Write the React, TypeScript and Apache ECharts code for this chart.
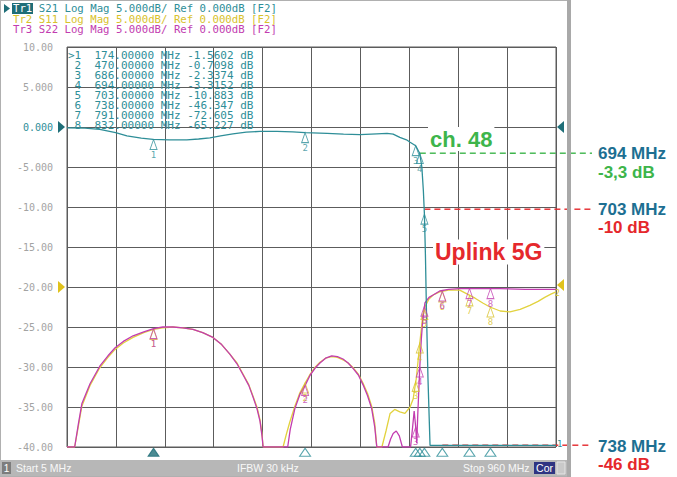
import React, { useEffect, useRef } from "react";
import * as echarts from "echarts";

const TEAL = "#2e8e98";
const TEAL_DARK = "#1f6e78";
const YELLOW = "#e2d23e";
const YELLOW_TXT = "#d8c22c";
const MAGENTA = "#c23cb0";
const GRID = "#5c5c5c";
const ANN_BLUE = "#1d6f92";
const ANN_GREEN = "#3db54b";
const ANN_RED = "#e5282c";
const MONO = "DejaVu Sans Mono, monospace";
const SANS = "Liberation Sans, Arial, sans-serif";

const startMHz = 5;
const stopMHz = 960;
const xDivisions = 10;
const yMin = -40;
const yMax = 10;
const yStep = 5;

// Tr1 S21 (display values; below -40 dB clamps to the bottom edge)
const s21Freq = [5, 40, 69, 100, 122, 150, 173, 205, 239, 262, 284, 305, 329, 355, 382, 415, 446, 470, 513, 545, 577, 610, 630, 642, 655, 668, 675, 686, 694, 698, 701, 703, 705, 707, 710, 714, 800, 960];
const s21Db = [-0.1, -0.15, -0.3, -0.7, -1.1, -1.4, -1.55, -1.6, -1.6, -1.5, -1.35, -1.1, -0.85, -0.65, -0.55, -0.55, -0.6, -0.71, -0.8, -0.9, -0.95, -0.85, -0.8, -0.9, -1.3, -1.6, -1.9, -2.34, -3.32, -5, -8, -10.88, -16, -23, -31.5, -39.8, -39.8, -39.8];

// Tr2 S11
const s11Freq = [5, 20, 27, 34, 50, 69, 85, 99, 115, 134, 155, 174, 192, 212, 231, 251, 270, 290, 307, 323, 337, 349, 360, 368, 376, 382, 386, 388, 427, 433, 440, 450, 460, 470, 480, 490, 499, 510, 522, 533, 544, 554, 564, 574, 583, 592, 600, 606, 610, 620, 628, 636, 645, 655, 665, 675, 681, 687, 691, 694, 699, 704, 712, 720, 733, 750, 772, 787, 802, 817, 831, 851, 870, 890, 909, 925, 938, 950, 960];
const s11Db = [-40, -40, -37.5, -34.9, -32.3, -30.1, -28.8, -27.8, -27, -26.3, -25.7, -25.3, -25.1, -25.0, -25.1, -25.3, -25.7, -26.3, -27.2, -28.4, -29.5, -30.9, -32.2, -33.6, -35, -36.6, -38.5, -40, -40, -38.5, -36.9, -34.9, -33.2, -32, -30.9, -30, -29.4, -28.9, -28.7, -28.8, -29.1, -29.5, -30.1, -30.9, -32, -33.3, -34.9, -37, -40, -40, -38, -35.8, -35.3, -35.6, -35.8, -35, -34, -31.5, -29, -27, -24, -22.5, -21.5, -21, -20.6, -20.4, -20.4, -20.9, -21.4, -22, -22.5, -23.0, -23.1, -22.8, -22.3, -21.8, -21.3, -20.9, -20.6];

// Tr3 S22
const s22Freq = [5, 20, 27, 34, 50, 69, 85, 99, 115, 134, 155, 174, 192, 212, 231, 251, 270, 290, 307, 323, 337, 349, 360, 368, 376, 382, 386, 388, 436, 441, 450, 460, 470, 480, 490, 499, 510, 522, 533, 544, 554, 564, 574, 583, 592, 600, 606, 610, 632, 637, 642, 648, 654, 660, 676, 680, 683, 686, 688, 690, 694, 697, 700, 704, 712, 720, 733, 750, 772, 800, 850, 900, 960];
const s22Db = [-40, -40, -37.2, -34.6, -32.1, -29.9, -28.6, -27.6, -26.8, -26.1, -25.6, -25.2, -25.0, -25.0, -25.1, -25.3, -25.7, -26.3, -27.2, -28.4, -29.6, -31, -32.3, -33.7, -35.2, -36.8, -38.7, -40, -40, -37.8, -35.2, -33.4, -32.3, -31, -30.1, -29.5, -28.9, -28.6, -28.7, -29, -29.5, -30.2, -31, -32.2, -33.6, -35.2, -37.5, -40, -40, -39, -38.3, -38, -38.6, -40, -40, -37.5, -35.5, -37.5, -39.5, -36, -30, -26.5, -24, -22, -21.3, -21, -20.5, -20.3, -20.2, -20.2, -20.2, -20.3, -20.3];

// Markers
const markerFreqs = [174, 470, 686, 694, 703, 738, 791, 832];
const s21MarkerDb = [-1.5602, -0.7098, -2.3374, -3.3152, -10.883, -46.347, -72.605, -65.227];
const s11MarkerDb = [-25.3, -32, -31.8, -27, -22.8, -20.6, -21.1, -22.5];
const s22MarkerDb = [-25.2, -32.3, -37.5, -30, -22.4, -20.5, -20.2, -20.2];

const headerLines = [
  { tr: "Tr1", rest: " S21 Log Mag 5.000dB/ Ref 0.000dB [F2]", color: TEAL },
  { tr: "Tr2", rest: " S11 Log Mag 5.000dB/ Ref 0.000dB [F2]", color: YELLOW_TXT },
  { tr: "Tr3", rest: " S22 Log Mag 5.000dB/ Ref 0.000dB [F2]", color: MAGENTA },
];

const statusTexts = ["Start 5 MHz", "IFBW 30 kHz", "Stop 960 MHz"];

function fmtMHz(f: number) {
  return f.toFixed(5);
}
function fmtDb(d: number) {
  return Math.abs(d) >= 10 ? d.toFixed(3) : d.toFixed(4);
}

export default function App() {
  const ref = useRef<HTMLDivElement>(null);
  useEffect(() => {
    document.body.style.margin = "0";
    const chart = echarts.init(ref.current!, null, { renderer: "svg" });
    const zip = (f: number[], d: number[]) => f.map((x, i) => [x, d[i]]);

    const markerSeries = (color: string, dbs: number[], labelPos: string) => ({
      type: "scatter",
      xAxisIndex: 0,
      yAxisIndex: 0,
      z: 5,
      symbol: "triangle",
      symbolSize: [7, 10],
      symbolOffset: [0, "50%"],
      itemStyle: { color: "rgba(255,255,255,0)", borderColor: color, borderWidth: 1 },
      label: { show: true, position: labelPos, distance: 0, formatter: "{b}", color, fontSize: 9, fontFamily: MONO },
      data: markerFreqs
        .map((f, i) => ({ name: String(i + 1), value: [f, dbs[i]] }))
        .filter((d) => d.value[1] >= yMin),
    });

    const yFmt = (v: number) => {
      if (v === 0) return "{t|0.000}";
      return Math.abs(v) < 10 ? v.toFixed(3) : v.toFixed(2);
    };

    chart.setOption({
      animation: false,
      backgroundColor: "#ffffff",
      grid: { left: 67, top: 47, width: 489, height: 400, show: true, borderColor: GRID, borderWidth: 1, backgroundColor: "#fff" },
      xAxis: [
        { type: "value", min: startMHz, max: stopMHz, axisLine: { show: false }, axisTick: { show: false }, axisLabel: { show: false }, splitLine: { show: false } },
        { type: "value", min: 0, max: xDivisions, interval: 1, axisLine: { show: false }, axisTick: { show: false }, axisLabel: { show: false }, splitLine: { show: true, lineStyle: { color: GRID, width: 1 } } },
      ],
      yAxis: {
        type: "value",
        min: yMin,
        max: yMax,
        interval: yStep,
        axisLine: { show: false },
        axisTick: { show: false },
        splitLine: { show: true, lineStyle: { color: GRID, width: 1 } },
        axisLabel: {
          margin: 14,
          color: "#a3a3a3",
          fontFamily: MONO,
          fontSize: 10,
          formatter: yFmt,
          rich: { t: { color: TEAL, fontFamily: MONO, fontSize: 10 } },
        },
      },
      series: [
        { type: "line", xAxisIndex: 0, data: zip(s11Freq, s11Db), showSymbol: false, lineStyle: { color: YELLOW, width: 1.3 }, itemStyle: { color: YELLOW }, z: 2 },
        { type: "line", xAxisIndex: 0, data: zip(s22Freq, s22Db), showSymbol: false, lineStyle: { color: MAGENTA, width: 1.3 }, itemStyle: { color: MAGENTA }, z: 3 },
        { type: "line", xAxisIndex: 0, data: zip(s21Freq, s21Db), showSymbol: false, lineStyle: { color: TEAL, width: 1.3 }, itemStyle: { color: TEAL }, z: 4 },
        markerSeries(YELLOW_TXT, s11MarkerDb, "bottom"),
        markerSeries(MAGENTA, s22MarkerDb, "bottom"),
        markerSeries(TEAL, s21MarkerDb, "bottom"),
        {
          type: "scatter",
          xAxisIndex: 0,
          clip: false,
          z: 6,
          symbol: "triangle",
          symbolSize: [11, 8],
          data: markerFreqs.map((f, i) => ({
            value: [f, yMin - 0.65],
            itemStyle: i === 0 ? { color: TEAL_DARK, borderColor: TEAL_DARK } : { color: "rgba(255,255,255,0)", borderColor: TEAL, borderWidth: 1 },
          })),
        },
      ],
    });

    const px = (f: number, d: number) => chart.convertToPixel({ seriesIndex: 0 }, [f, d]) as number[];
    const [gx0, gy0] = px(startMHz, 0);
    const [gx1] = px(stopMHz, 0);
    const y20 = px(startMHz, -20)[1];
    const annX = 598;
    const dashEnd = 592;

    const g: any[] = [];
    g.push({ type: "rect", shape: { x: 0, y: 0, width: 570, height: 477 }, style: { fill: "none", stroke: "#b0b0b0", lineWidth: 2 }, z: 1 });
    g.push({ type: "rect", shape: { x: 567, y: 0, width: 4, height: 477 }, style: { fill: "#a9a9a9" }, z: 1 });
    g.push({ type: "rect", shape: { x: 0, y: 460, width: 567, height: 16 }, style: { fill: "#b7b7b7" }, z: 2 });
    g.push({ type: "rect", shape: { x: 2, y: 462, width: 9, height: 12 }, style: { fill: "#7d7d7d" }, z: 3 });
    g.push({ type: "text", x: 6.5, y: 468, style: { text: "1", fill: "#fff", font: `10px ${SANS}`, align: "center", verticalAlign: "middle" }, z: 4 });
    const statusX = [16, 237, 463];
    statusTexts.forEach((t, i) =>
      g.push({ type: "text", x: statusX[i], y: 468, style: { text: t, fill: "#f7f7f7", font: `10.5px ${SANS}`, verticalAlign: "middle" }, z: 4 })
    );
    g.push({ type: "rect", shape: { x: 534, y: 462, width: 21, height: 12 }, style: { fill: "#2f3482" }, z: 3 });
    g.push({ type: "text", x: 544.5, y: 468, style: { text: "Cor", fill: "#fff", font: `10.5px ${SANS}`, align: "center", verticalAlign: "middle" }, z: 4 });
    g.push({ type: "rect", shape: { x: 557, y: 462, width: 8, height: 12 }, style: { fill: "#c9c9c9", stroke: "#e4e4e4", lineWidth: 1 }, z: 3 });

    const hy = [8.5, 19, 29.5];
    const hcw = 10.7 * 0.602;
    g.push({ type: "polygon", shape: { points: [[4, 4], [10, 8.5], [4, 13]] }, style: { fill: TEAL_DARK }, z: 4 });
    g.push({ type: "rect", shape: { x: 12, y: 3, width: 21, height: 11 }, style: { fill: TEAL_DARK }, z: 3 });
    headerLines.forEach((h, i) => {
      g.push({ type: "text", x: 13, y: hy[i], style: { text: h.tr, fill: i === 0 ? "#ffffff" : h.color, font: `10.7px ${MONO}`, verticalAlign: "middle" }, z: 4 });
      g.push({ type: "text", x: 13 + 3 * hcw, y: hy[i], style: { text: h.rest, fill: h.color, font: `10.7px ${MONO}`, verticalAlign: "middle" }, z: 4 });
    });

    markerFreqs.forEach((f, i) => {
      const num = i === 0 ? ">1" : " " + (i + 1);
      const mhz = fmtMHz(f).padStart(9, " ");
      const db = fmtDb(s21MarkerDb[i]).padStart(7, " ");
      g.push({ type: "text", x: 68, y: 55 + i * 10, style: { text: `${num}  ${mhz} MHz ${db} dB`, fill: TEAL, font: `11px ${MONO}`, verticalAlign: "middle" }, z: 4 });
    });

    const tri = (x: number, y: number, dir: number, color: string) => ({
      type: "polygon",
      shape: { points: dir > 0 ? [[x, y - 6], [x + 7, y], [x, y + 6]] : [[x + 7, y - 6], [x, y], [x + 7, y + 6]] },
      style: { fill: color },
      z: 5,
    });
    g.push(tri(gx0 - 9, gy0, 1, TEAL_DARK));
    g.push(tri(gx0 - 9, y20, 1, "#e0c21c"));
    g.push(tri(gx1 + 1, gy0, -1, TEAL_DARK));
    g.push(tri(gx1 + 1, y20 - 2, -1, "#e0c21c"));
    g.push({ type: "text", x: gx1 - 1, y: y20 + 6, style: { text: "2", fill: YELLOW_TXT, font: `8px ${MONO}`, verticalAlign: "middle" }, z: 6 });

    // dashed annotation lines drawn as a row of short dashes (rects)
    const dash = (p: number[], color: string) => {
      const yy = Math.round(p[1]) - 0.5;
      const children: any[] = [];
      for (let x = p[0]; x < dashEnd; x += 10) {
        children.push({ type: "rect", shape: { x, y: yy, width: Math.min(6, dashEnd - x), height: 1.4 }, style: { fill: color } });
      }
      return { type: "group", children, z: 6 };
    };
    g.push(dash(px(694, -3.3), ANN_GREEN));
    g.push(dash(px(703, -10.3), ANN_RED));
    g.push(dash(px(738, -39.8), ANN_RED));

    const ann = (text: string, y: number, color: string) => ({
      type: "text",
      x: annX,
      y,
      style: { text, fill: color, font: `bold 17px ${SANS}`, verticalAlign: "middle" },
      z: 6,
    });
    g.push(ann("694 MHz", 153, ANN_BLUE));
    g.push(ann("-3,3 dB", 172, ANN_GREEN));
    g.push(ann("703 MHz", 209, ANN_BLUE));
    g.push(ann("-10 dB", 227, ANN_RED));
    g.push(ann("738 MHz", 446, ANN_BLUE));
    g.push(ann("-46 dB", 464, ANN_RED));

    g.push({ type: "text", x: 428, y: 139, style: { text: "ch. 48", fill: ANN_GREEN, font: `bold 22px ${SANS}`, verticalAlign: "middle", backgroundColor: "#fff", padding: [1, 2] }, z: 7 });
    g.push({ type: "text", x: 433, y: 252, style: { text: "Uplink 5G", fill: ANN_RED, font: `bold 23px ${SANS}`, verticalAlign: "middle", backgroundColor: "#fff", padding: [1, 2] }, z: 7 });
    g.push({ type: "text", x: gx1 + 1, y: 444, style: { text: "1", fill: TEAL, font: `9px ${MONO}`, verticalAlign: "middle" }, z: 7 });

    chart.setOption({ graphic: g });

    return () => chart.dispose();
  }, []);
  return <div ref={ref} style={{ width: 677, height: 477 }} />;
}
